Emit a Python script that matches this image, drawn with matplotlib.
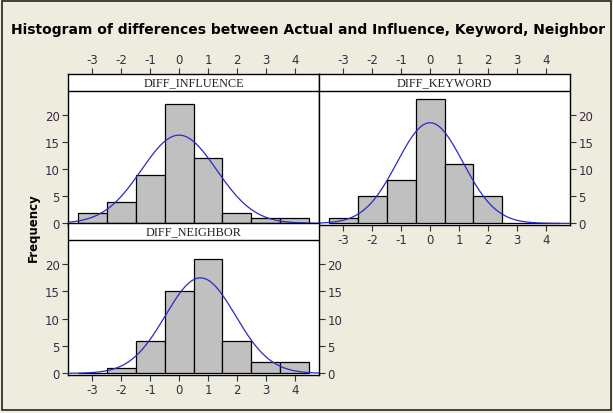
"""Panel histogram of differences between Actual and Influence, Keyword, Neighbor."""

from __future__ import annotations

import numpy as np
import matplotlib

matplotlib.use("Agg")
import matplotlib.pyplot as plt
from matplotlib.patches import Rectangle

plt.rcParams["axes.unicode_minus"] = False

# bin midpoints (width 1) shared by all three panels
bin_centers = [-3, -2, -1, 0, 1, 2, 3, 4]
x_ticks = [-3, -2, -1, 0, 1, 2, 3, 4]
y_ticks = [0, 5, 10, 15, 20]

panel_names = ["DIFF_INFLUENCE", "DIFF_KEYWORD", "DIFF_NEIGHBOR"]
influence_counts = [2, 4, 9, 22, 12, 2, 1, 1]
keyword_counts = [1, 5, 8, 23, 11, 5, 0, 0]
neighbor_counts = [0, 1, 6, 15, 21, 6, 2, 2]

# fitted normal parameters (mean, stdev)
fit_means = [0.0, 0.0, 0.74]
fit_stdevs = [1.30, 1.14, 1.21]

BG = "#EEEBDF"
BAR = "#C0C0C0"
CURVE = "#2A2AC4"
TICK_TXT = "#3C2A40"
W, H = 613, 414


def px_box(x0, y0, x1, y1):
    """pixel box (top-left origin) -> figure fraction rect"""
    return [x0 / W, 1 - y1 / H, (x1 - x0) / W, (y1 - y0) / H]


def draw_panel(ax, name, counts, mu, sd, strip_px, data_px):
    ymax_data = 24.4
    per_unit = data_px / (ymax_data + 0.3)
    ytop = ymax_data + strip_px / per_unit

    ax.bar(bin_centers, counts, width=1.0, color=BAR, edgecolor="black", linewidth=0.9, zorder=2)
    xs = np.linspace(-3.84, 4.84, 300)
    n = sum(counts)
    ys = n / (sd * np.sqrt(2 * np.pi)) * np.exp(-0.5 * ((xs - mu) / sd) ** 2)
    ax.plot(xs, ys, color=CURVE, linewidth=0.9, zorder=3)

    # strip with panel name
    ax.axhline(ymax_data, color="black", linewidth=1.0, zorder=4)
    ax.text(0.5, (ymax_data + ytop) / 2, name, ha="center", va="center",
            fontsize=8.8, family="Liberation Serif", color="#222222")

    ax.set_xlim(-3.84, 4.84)
    ax.set_ylim(-0.3, ytop)
    ax.set_xticks(x_ticks)
    ax.set_yticks(y_ticks)
    ax.set_facecolor("white")
    for sp in ax.spines.values():
        sp.set_linewidth(1.0)
        sp.set_color("black")
    ax.tick_params(direction="out", length=4, width=0.8, color="#333333",
                   labelsize=8.5, labelcolor=TICK_TXT, pad=2)


def main() -> None:
    fig = plt.figure(figsize=(W / 100, H / 100), dpi=100, facecolor=BG)

    ax_inf = fig.add_axes(px_box(68, 75, 319, 226))
    ax_key = fig.add_axes(px_box(319, 75, 570, 226))
    ax_nei = fig.add_axes(px_box(68, 224, 319, 376))

    draw_panel(ax_inf, panel_names[0], influence_counts, fit_means[0], fit_stdevs[0], 17, 134)
    draw_panel(ax_key, panel_names[1], keyword_counts, fit_means[1], fit_stdevs[1], 17, 134)
    draw_panel(ax_nei, panel_names[2], neighbor_counts, fit_means[2], fit_stdevs[2], 17, 135)

    # Minitab-style alternating axis sides
    ax_inf.tick_params(axis="x", top=True, labeltop=True, bottom=False, labelbottom=False)
    ax_inf.tick_params(axis="y", left=True, labelleft=True, right=False, labelright=False)

    ax_key.tick_params(axis="x", top=True, labeltop=True, bottom=True, labelbottom=True)
    ax_key.tick_params(axis="y", left=False, labelleft=False, right=True, labelright=True)

    ax_nei.tick_params(axis="x", top=False, labeltop=False, bottom=True, labelbottom=True)
    ax_nei.tick_params(axis="y", left=True, labelleft=True, right=True, labelright=True)

    fig.text(0.503, 1 - 30 / H,
             "Histogram of differences between Actual and Influence, Keyword, Neighbor",
             ha="center", va="center", fontsize=10, fontweight="bold", color="black")
    fig.text(33 / W, 1 - 228 / H, "Frequency", rotation=90, ha="center", va="center",
             fontsize=8.5, fontweight="bold", color="black")

    # outer frame of the graph window
    fig.patches.append(Rectangle((2 / W, 3 / H), 609 / W, 409 / H, transform=fig.transFigure,
                                 fill=False, edgecolor="#222222", linewidth=1.2))

    fig.savefig("out.png", dpi=100, facecolor=BG)
    plt.close(fig)


if __name__ == "__main__":
    main()
